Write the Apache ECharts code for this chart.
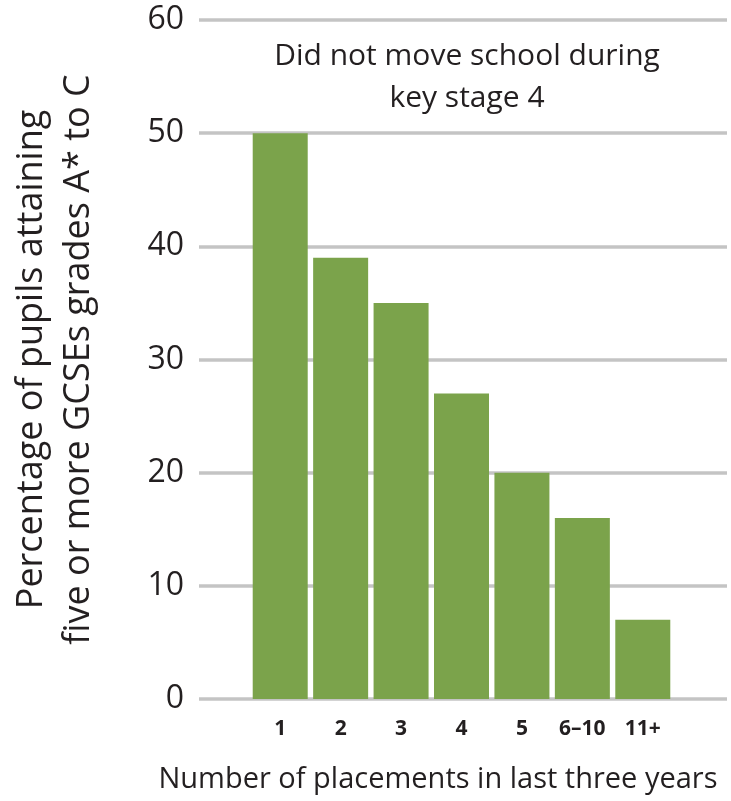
<!DOCTYPE html>
<html>
<head>
<meta charset="utf-8">
<script src="https://cdn.jsdelivr.net/npm/echarts@6/dist/echarts.min.js"></script>
<style>html,body{margin:0;padding:0;background:#fff;}#c{width:731px;height:801px;}</style>
</head>
<body>
<div id="c"></div>
<script>
const categories = ['1', '2', '3', '4', '5', '6\u201310', '11+'];
const values = [50, 39, 35, 27, 20, 16, 7];
const yTicks = { min: 0, max: 60, interval: 10 };
const titleText = 'Did not move school during\nkey stage 4';
const yName = 'Percentage of pupils attaining\nfive or more GCSEs grades A* to C';
const xName = 'Number of placements in last three years';

const FONT = '"Open Sans", "Noto Sans", sans-serif';
const TXT = '#231f20';
const chart = echarts.init(document.getElementById('c'), null, { renderer: 'canvas' });
chart.setOption({
  backgroundColor: '#fff',
  animation: false,
  title: {
    text: titleText,
    left: 462, top: 30, textAlign: 'center',
    textStyle: { fontFamily: FONT, fontWeight: 'normal', fontSize: 30, color: TXT, lineHeight: 42 }
  },
  grid: [
    { left: 197, right: 4, top: 20, bottom: 102 },
    { left: 250, right: 58, top: 20, bottom: 102 }
  ],
  xAxis: [
    { gridIndex: 0, type: 'value', min: 0, max: 1, show: false },
    {
      gridIndex: 1, type: 'category', data: categories,
      axisLine: { show: false }, axisTick: { show: false },
      axisLabel: { interval: 0, hideOverlap: false, margin: 20, fontFamily: FONT, fontWeight: 'bold', fontSize: 21, color: TXT },
      name: xName, nameLocation: 'middle', nameGap: 66,
      nameTextStyle: { fontFamily: FONT, fontSize: 29, color: TXT, padding: [0, 47, 0, 0] }
    }
  ],
  yAxis: [
    {
      gridIndex: 0, type: 'value', min: yTicks.min, max: yTicks.max, interval: yTicks.interval,
      axisLine: { show: false }, axisTick: { show: false },
      axisLabel: { margin: 15, fontFamily: FONT, fontSize: 32, color: TXT },
      splitLine: { lineStyle: { color: '#c4c4c4', width: 3.5 } },
      name: yName, nameLocation: 'middle', nameGap: 97, nameRotate: 90,
      nameTextStyle: { fontFamily: FONT, fontSize: 36, color: TXT, lineHeight: 47 }
    },
    { gridIndex: 1, type: 'value', min: yTicks.min, max: yTicks.max, interval: yTicks.interval, show: false, splitLine: { show: false } }
  ],
  series: [{
    type: 'bar', xAxisIndex: 1, yAxisIndex: 1, data: values, barWidth: 55,
    itemStyle: { color: '#7ba34b' }
  }]
});
</script>
</body>
</html>
